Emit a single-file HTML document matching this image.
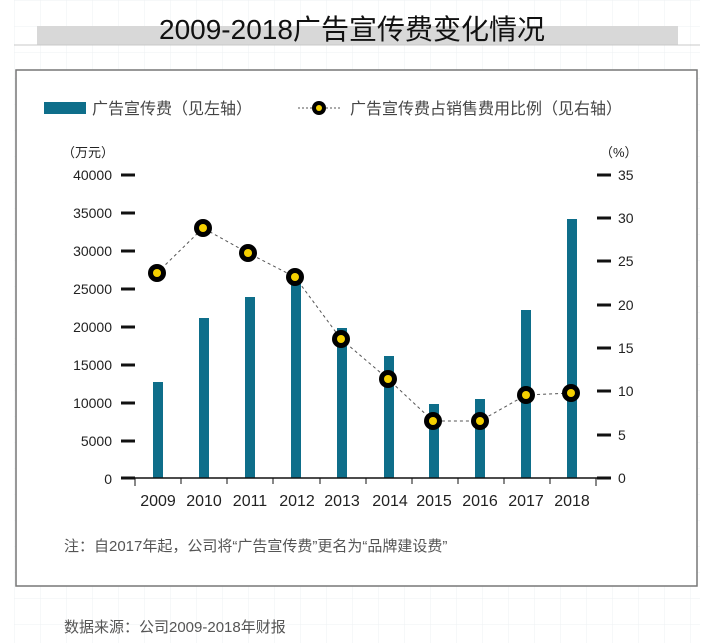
<!DOCTYPE html>
<html><head><meta charset="utf-8"><style>
body{margin:0;width:704px;height:643px;background:#fff;overflow:hidden}
svg{display:block}
text{font-family:"Liberation Sans","Noto Sans CJK SC",sans-serif}
</style></head><body>
<svg width="704" height="643" viewBox="0 0 704 643">
<defs><pattern id="g" width="26" height="26" patternUnits="userSpaceOnUse" x="14" y="0"><path d="M0 0V26M0 0H26" stroke="#eef0f3" stroke-width="1" fill="none"/></pattern></defs>
<rect width="704" height="643" fill="#fff"/>
<rect x="14" y="0" width="686" height="643" fill="url(#g)"/>
<rect x="37" y="26" width="641" height="19" fill="#d8d8d8"/>
<line x1="14" y1="45" x2="700" y2="45" stroke="#c8c8c8"/>
<text x="159" y="39" font-size="28" textLength="386" lengthAdjust="spacingAndGlyphs" fill="#111">2009-2018广告宣传费变化情况</text>
<rect x="16" y="70" width="681" height="516" fill="#fff" stroke="#777" stroke-width="1.5"/>
<rect x="44" y="102" width="42" height="12" fill="#0e6e8a"/>
<text x="92" y="114" font-size="16" fill="#444">广告宣传费（见左轴）</text>
<line x1="298" y1="108" x2="340" y2="108" stroke="#555" stroke-dasharray="2,2"/>
<circle cx="319" cy="108" r="7" fill="#000"/><circle cx="319" cy="108" r="3" fill="#f5d000"/>
<text x="350" y="114" font-size="16" fill="#444">广告宣传费占销售费用比例（见右轴）</text>
<text x="62" y="157" font-size="13" fill="#222">（万元）</text>
<text x="600" y="157" font-size="13" fill="#222">（%）</text>
<g font-size="14" fill="#222" text-anchor="end">
<text x="112" y="180">40000</text><text x="112" y="218">35000</text><text x="112" y="256">30000</text><text x="112" y="294">25000</text><text x="112" y="332">20000</text><text x="112" y="370">15000</text><text x="112" y="408">10000</text><text x="112" y="446">5000</text><text x="112" y="484">0</text>
</g>
<g font-size="14" fill="#222">
<text x="618" y="180">35</text><text x="618" y="223">30</text><text x="618" y="266">25</text><text x="618" y="310">20</text><text x="618" y="353">15</text><text x="618" y="396">10</text><text x="618" y="440">5</text><text x="618" y="483">0</text>
</g>
<g stroke="#111" stroke-width="3">
<path d="M121 175H135M121 213H135M121 251H135M121 289H135M121 327H135M121 365H135M121 403H135M121 441H135M121 478H135"/>
<path d="M597 175H611M597 218H611M597 261H611M597 305H611M597 348H611M597 391H611M597 435H611M597 478H611"/>
</g>
<g fill="#0e6e8a">
<rect x="153" y="382" width="10" height="96"/><rect x="199" y="318" width="10" height="160"/><rect x="245" y="297" width="10" height="181"/><rect x="291" y="283" width="10" height="195"/><rect x="337" y="328" width="10" height="150"/><rect x="384" y="356" width="10" height="122"/><rect x="429" y="404" width="10" height="74"/><rect x="475" y="399" width="10" height="79"/><rect x="521" y="310" width="10" height="168"/><rect x="567" y="219" width="10" height="259"/>
</g>
<line x1="135" y1="478" x2="600" y2="478" stroke="#111" stroke-width="1.5"/>
<g stroke="#111"><path d="M135 478v8M181 478v6M227 478v6M273 478v6M320 478v6M366 478v6M412 478v6M458 478v6M504 478v6M550 478v6M596 478v8"/></g>
<g font-size="16" fill="#222" text-anchor="middle">
<text x="158" y="506">2009</text><text x="204" y="506">2010</text><text x="250" y="506">2011</text><text x="297" y="506">2012</text><text x="342" y="506">2013</text><text x="390" y="506">2014</text><text x="434" y="506">2015</text><text x="480" y="506">2016</text><text x="526" y="506">2017</text><text x="572" y="506">2018</text>
</g>
<polyline points="157,273 203,228 248,253 295,277 341,339 388,379 433,421 480,421 526,395 571,393" fill="none" stroke="#555" stroke-dasharray="3,3"/>
<g fill="#000">
<circle cx="157" cy="273" r="9"/><circle cx="203" cy="228" r="9"/><circle cx="248" cy="253" r="9"/><circle cx="295" cy="277" r="9"/><circle cx="341" cy="339" r="9"/><circle cx="388" cy="379" r="9"/><circle cx="433" cy="421" r="9"/><circle cx="480" cy="421" r="9"/><circle cx="526" cy="395" r="9"/><circle cx="571" cy="393" r="9"/>
</g>
<g fill="#f5d000">
<circle cx="157" cy="273" r="4"/><circle cx="203" cy="228" r="4"/><circle cx="248" cy="253" r="4"/><circle cx="295" cy="277" r="4"/><circle cx="341" cy="339" r="4"/><circle cx="388" cy="379" r="4"/><circle cx="433" cy="421" r="4"/><circle cx="480" cy="421" r="4"/><circle cx="526" cy="395" r="4"/><circle cx="571" cy="393" r="4"/>
</g>
<text x="64" y="551" font-size="15" fill="#555">注：自2017年起，公司将“广告宣传费”更名为“品牌建设费”</text>
<text x="64" y="632" font-size="15" fill="#555">数据来源：公司2009-2018年财报</text>
</svg>
</body></html>
